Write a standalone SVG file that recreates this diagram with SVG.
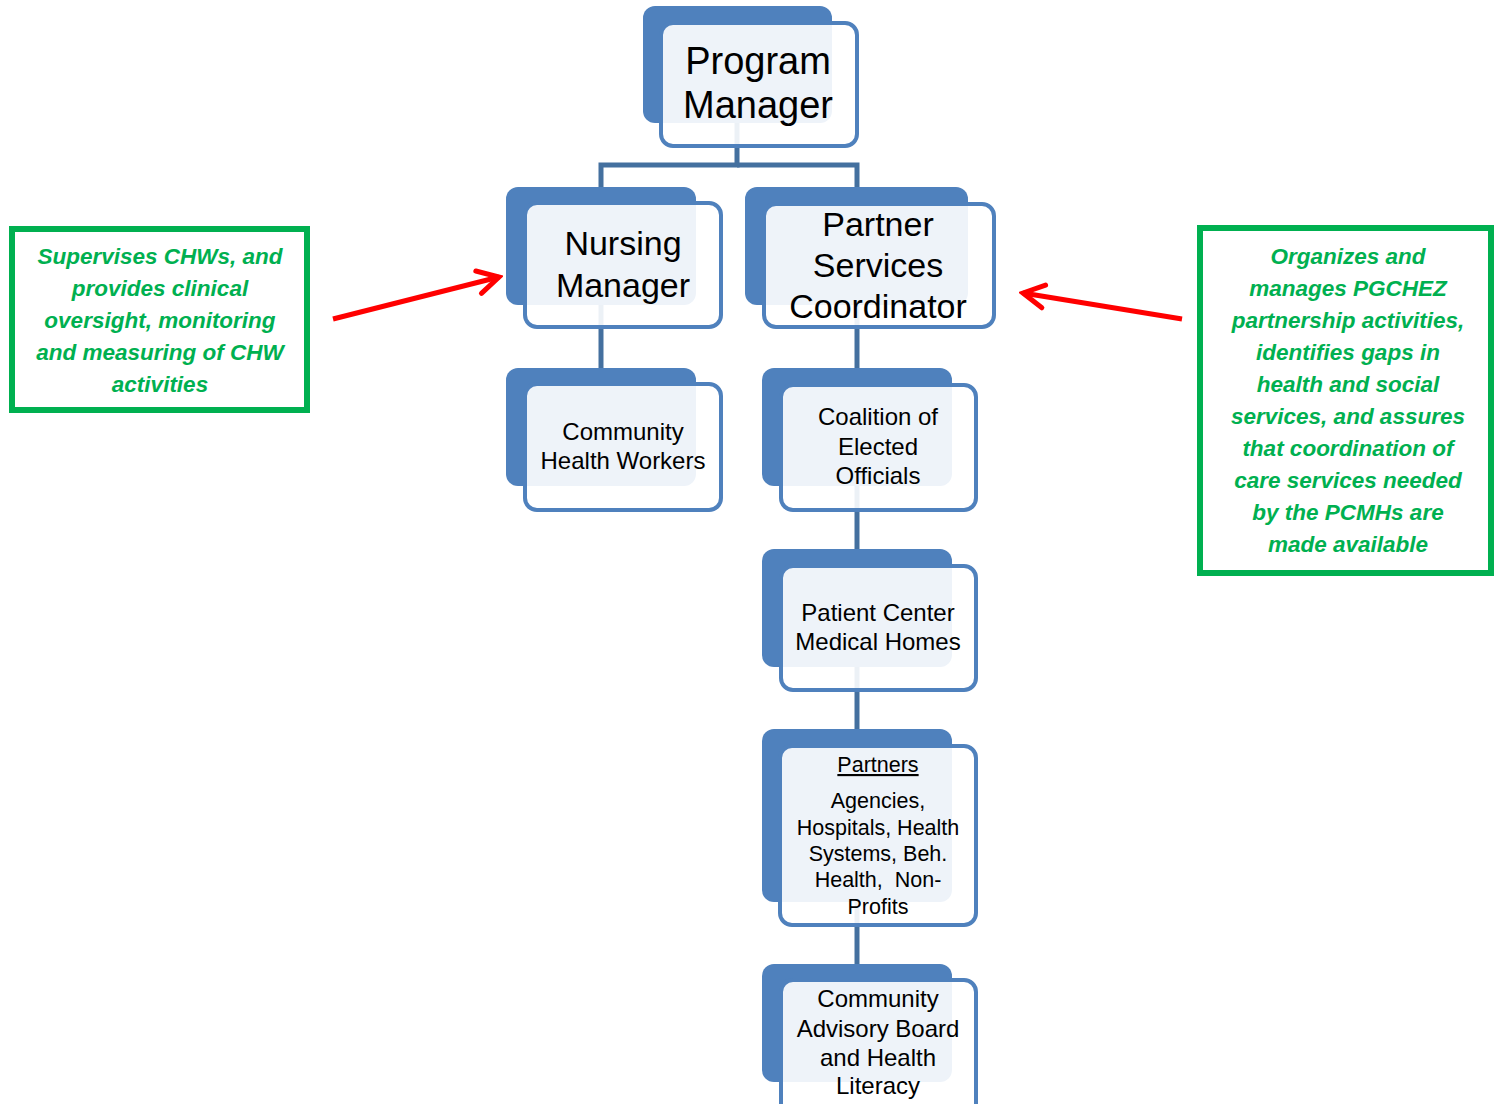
<svg xmlns="http://www.w3.org/2000/svg" width="1495" height="1104" viewBox="0 0 1495 1104">
  <style>
    .back { fill: #4F81BD; }
    .front { fill: #FFFFFF; fill-opacity: 0.9; stroke: #4F81BD; stroke-width: 4; }
    .lbl { font-family: "Liberation Sans", Arial, sans-serif; fill: #000000; text-anchor: middle; }
    .big { font-size: 38px; }
    .mid { font-size: 34px; }
    .sm { font-size: 24px; }
    .xs { font-size: 21.5px; }
    .link { fill: none; stroke: #44709F; stroke-width: 5; }
    .note { fill: #FFFFFF; stroke: #00B050; stroke-width: 6; }
    .noteText { font-family: "Liberation Sans", Arial, sans-serif; font-size: 22.5px; font-weight: bold; font-style: italic; fill: #00B050; text-anchor: middle; }
    .pointer { fill: none; stroke: #FF0000; stroke-width: 5; marker-end: url(#chevron); }
  </style>
  <defs>
    <marker id="chevron" markerUnits="userSpaceOnUse" viewBox="-28 -16 32 32" refX="0" refY="0" markerWidth="32" markerHeight="32" orient="auto">
      <path d="M-21,-11.5 L0,0 L-21,11.5" fill="none" stroke="#FF0000" stroke-width="5" stroke-linecap="round" stroke-linejoin="miter"/>
    </marker>
  </defs>

  <!-- hierarchy connectors (drawn first so they show faintly through the boxes) -->
  <g id="connectors">
    <path class="link" d="M737,123 V165 H601 V190"/>
    <path class="link" d="M737,165 H857 V190"/>
    <path class="link" d="M601,305 V370"/>
    <path class="link" d="M857,305 V370"/>
    <path class="link" d="M857,486 V551"/>
    <path class="link" d="M857,667 V731"/>
    <path class="link" d="M857,902 V966"/>
  </g>

  <g id="program-manager">
    <rect class="back" x="643" y="6" width="189" height="117" rx="12"/>
    <rect class="front" x="661" y="23" width="196" height="123" rx="12"/>
    <text class="lbl big" x="758" y="74">Program</text>
    <text class="lbl big" x="758" y="118">Manager</text>
  </g>

  <g id="nursing-manager">
    <rect class="back" x="506" y="187" width="190" height="118" rx="12"/>
    <rect class="front" x="525" y="203" width="196" height="124" rx="12"/>
    <text class="lbl mid" x="623" y="255">Nursing</text>
    <text class="lbl mid" x="623" y="297">Manager</text>
  </g>

  <g id="partner-services-coordinator">
    <rect class="back" x="745" y="187" width="223" height="118" rx="12"/>
    <rect class="front" x="764" y="204" width="230" height="123" rx="12"/>
    <text class="lbl mid" x="878" y="236">Partner</text>
    <text class="lbl mid" x="878" y="277">Services</text>
    <text class="lbl mid" x="878" y="318">Coordinator</text>
  </g>

  <g id="community-health-workers">
    <rect class="back" x="506" y="368" width="190" height="118" rx="12"/>
    <rect class="front" x="525" y="384" width="196" height="126" rx="12"/>
    <text class="lbl sm" x="623" y="440">Community</text>
    <text class="lbl sm" x="623" y="469">Health Workers</text>
  </g>

  <g id="coalition-elected-officials">
    <rect class="back" x="762" y="368" width="190" height="118" rx="12"/>
    <rect class="front" x="781" y="385" width="195" height="125" rx="12"/>
    <text class="lbl sm" x="878" y="425">Coalition of</text>
    <text class="lbl sm" x="878" y="455">Elected</text>
    <text class="lbl sm" x="878" y="484">Officials</text>
  </g>

  <g id="patient-center-medical-homes">
    <rect class="back" x="762" y="549" width="190" height="118" rx="12"/>
    <rect class="front" x="781" y="566" width="195" height="124" rx="12"/>
    <text class="lbl sm" x="878" y="621">Patient Center</text>
    <text class="lbl sm" x="878" y="650">Medical Homes</text>
  </g>

  <g id="partners">
    <rect class="back" x="762" y="729" width="190" height="173" rx="12"/>
    <rect class="front" x="780" y="746" width="196" height="179" rx="12"/>
    <text class="lbl xs" x="878" y="772" text-decoration="underline">Partners</text>
    <text class="lbl xs" x="878" y="808">Agencies,</text>
    <text class="lbl xs" x="878" y="835">Hospitals, Health</text>
    <text class="lbl xs" x="878" y="861">Systems, Beh.</text>
    <text class="lbl xs" x="878" y="887" xml:space="preserve">Health,  Non-</text>
    <text class="lbl xs" x="878" y="914">Profits</text>
  </g>

  <g id="community-advisory-board">
    <rect class="back" x="762" y="964" width="190" height="118" rx="12"/>
    <rect class="front" x="781" y="980" width="195" height="150" rx="12"/>
    <text class="lbl sm" x="878" y="1007">Community</text>
    <text class="lbl sm" x="878" y="1037">Advisory Board</text>
    <text class="lbl sm" x="878" y="1066">and Health</text>
    <text class="lbl sm" x="878" y="1094">Literacy</text>
  </g>

  <!-- role descriptions -->
  <g id="nursing-note">
    <rect class="note" x="12" y="229" width="295" height="181"/>
    <text class="noteText" x="160" y="264">Supervises CHWs, and</text>
    <text class="noteText" x="160" y="296">provides clinical</text>
    <text class="noteText" x="160" y="328">oversight, monitoring</text>
    <text class="noteText" x="160" y="360">and measuring of CHW</text>
    <text class="noteText" x="160" y="392">activities</text>
  </g>

  <g id="partner-note">
    <rect class="note" x="1200" y="228" width="291" height="345"/>
    <text class="noteText" x="1348" y="264">Organizes and</text>
    <text class="noteText" x="1348" y="296">manages PGCHEZ</text>
    <text class="noteText" x="1348" y="328">partnership activities,</text>
    <text class="noteText" x="1348" y="360">identifies gaps in</text>
    <text class="noteText" x="1348" y="392">health and social</text>
    <text class="noteText" x="1348" y="424">services, and assures</text>
    <text class="noteText" x="1348" y="456">that coordination of</text>
    <text class="noteText" x="1348" y="488">care services needed</text>
    <text class="noteText" x="1348" y="520">by the PCMHs are</text>
    <text class="noteText" x="1348" y="552">made available</text>
  </g>

  <g id="pointers">
    <line class="pointer" x1="333" y1="319" x2="499" y2="277"/>
    <line class="pointer" x1="1182" y1="319" x2="1023" y2="293"/>
  </g>
</svg>
